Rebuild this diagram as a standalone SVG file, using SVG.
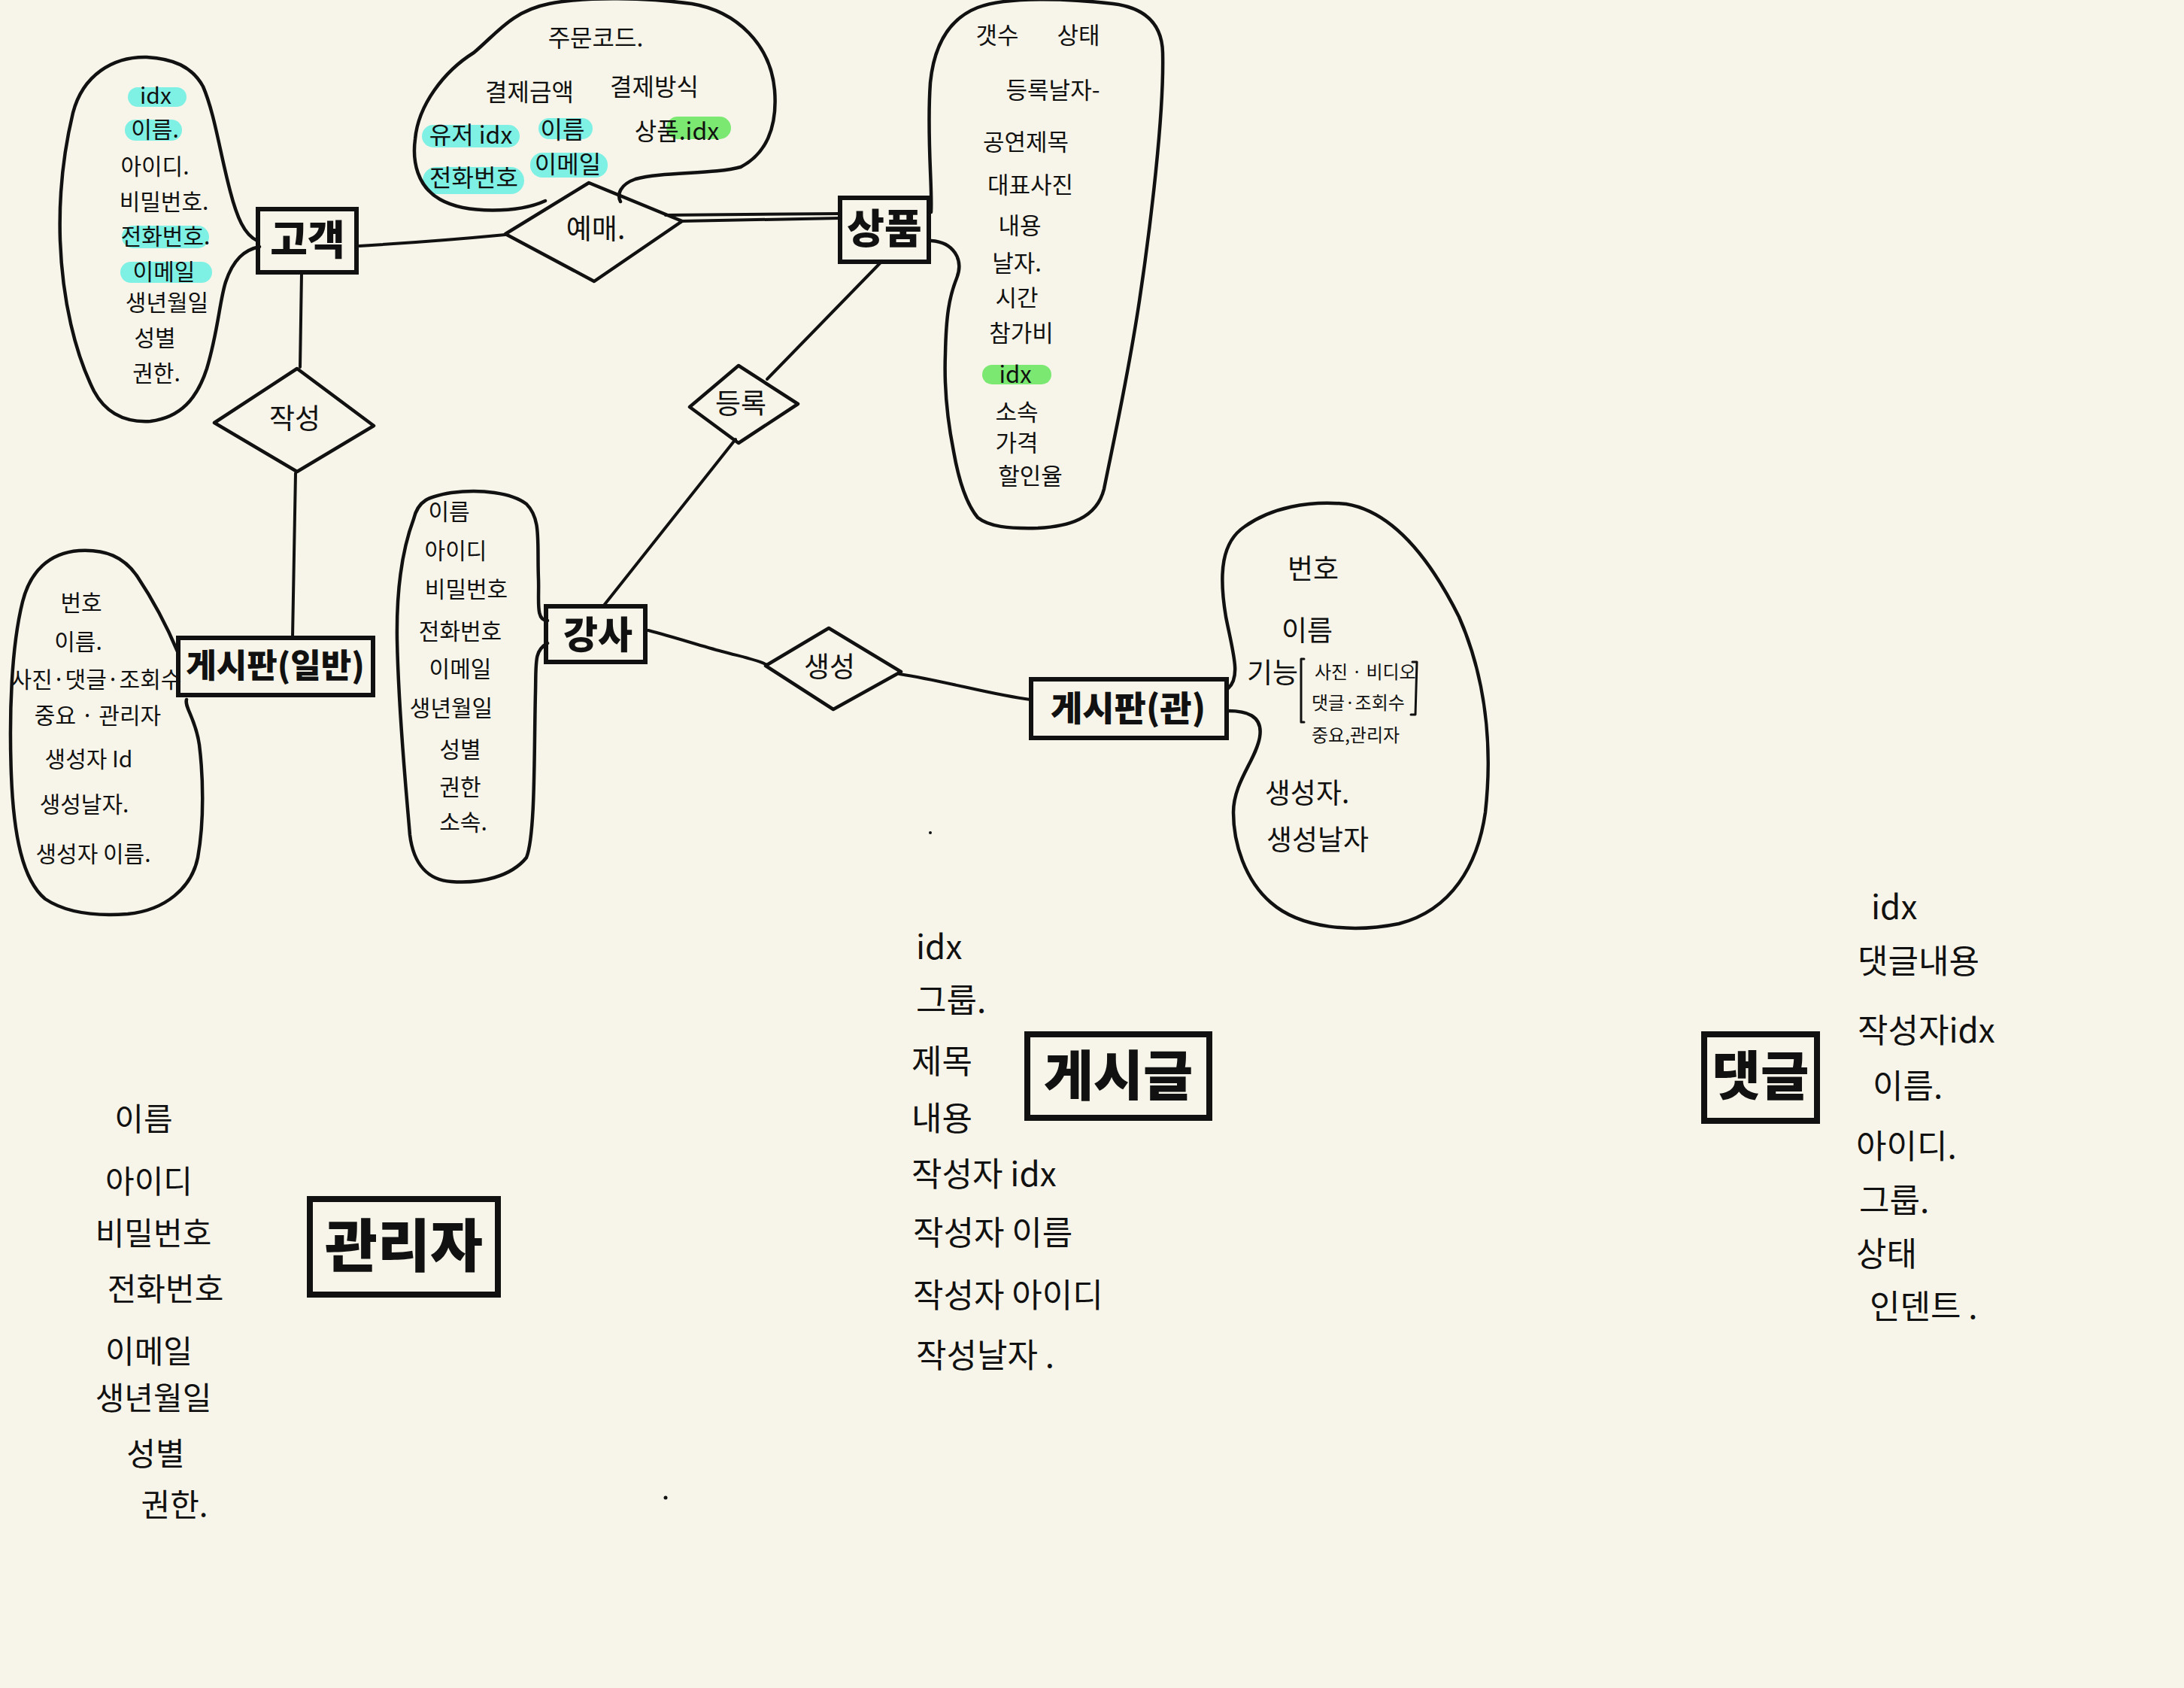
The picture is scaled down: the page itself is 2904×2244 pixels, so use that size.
<svg xmlns="http://www.w3.org/2000/svg" width="2904" height="2244" viewBox="0 0 2904 2244">
<defs>
<style>
.bg{fill:#F7F5E9}
.ln{fill:none;stroke:#111;stroke-width:4;stroke-linecap:round;stroke-linejoin:round}
.blob{fill:none;stroke:#111;stroke-width:4.5;stroke-linecap:round;stroke-linejoin:round}
.box{fill:none;stroke:#111;stroke-width:6}
.bbox{fill:none;stroke:#111;stroke-width:8}
.dia{fill:none;stroke:#111;stroke-width:4.5;stroke-linejoin:round}
.hc{fill:#7FF0E4}
.hg{fill:#7BE872}
text{font-family:"Noto Sans CJK KR","Noto Sans",sans-serif;fill:#111}
.t{font-size:30px;text-anchor:middle}
.to{font-size:32px;text-anchor:middle}
.tp{font-size:31px;text-anchor:middle}
.tk{font-size:37px;text-anchor:middle}
.ts{font-size:24px}
.tb{font-size:44px}
.ta{font-size:42px;text-anchor:middle}
.lab{font-weight:900;text-anchor:middle}
</style>
</defs>
<rect class="bg" x="0" y="0" width="2904" height="2244"/>

<g id="connectors">
<path class="ln" d="M401,363 L399,488"/>
<path class="ln" d="M393,629 L389,847"/>
<path class="ln" d="M478,327 C560,322 620,317 672,312"/>
<path class="ln" d="M905,294 L1117,290"/>
<path class="ln" d="M885,286 L1117,284"/>
<path class="ln" d="M1170,350 L1020,504"/>
<path class="ln" d="M978,584 L802,806"/>
<path class="ln" d="M862,838 C900,848 930,858 960,866 C990,874 1010,878 1020,884"/>
<path class="ln" d="M1196,896 C1260,906 1320,924 1370,930"/>
</g>

<g id="customer">
<rect class="hc" x="170" y="116" width="78" height="26" rx="13"/>
<rect class="hc" x="166" y="159" width="76" height="28" rx="14"/>
<rect class="hc" x="162" y="300" width="116" height="30" rx="15"/>
<rect class="hc" x="160" y="348" width="122" height="28" rx="14"/>
<path class="blob" d="M342,320 C325,312 315,290 305,250 C292,200 285,150 270,115 C255,88 230,78 195,76 C150,75 110,100 97,150 C85,200 78,260 80,320 C83,400 100,470 125,520 C140,548 165,562 200,560 C240,555 262,530 275,490 C290,440 292,400 300,375 C310,345 325,332 345,328"/>
<text class="t" x="207" y="138">idx</text>
<text class="t" x="206" y="183">이름.</text>
<text class="t" x="206" y="232">아이디.</text>
<text class="t" x="218" y="279">비밀번호.</text>
<text class="t" x="220" y="325">전화번호.</text>
<text class="t" x="218" y="372">이메일</text>
<text class="t" x="222" y="413">생년월일</text>
<text class="t" x="206" y="460">성별</text>
<text class="t" x="208" y="507">권한.</text>
<rect class="box" x="343" y="278" width="131" height="84"/>
<text class="lab" x="409" y="339" font-size="54">고객</text>
</g>

<g id="order">
<rect class="hc" x="561" y="166" width="130" height="30" rx="15"/>
<rect class="hc" x="716" y="157" width="72" height="28" rx="14"/>
<rect class="hc" x="562" y="222" width="135" height="36" rx="18"/>
<rect class="hc" x="705" y="203" width="103" height="33" rx="16"/>
<rect class="hg" x="886" y="155" width="86" height="30" rx="15"/>
<path class="blob" d="M725,267 C690,283 620,285 585,265 C555,248 548,215 552,185 C556,140 590,95 630,70 C660,45 680,15 730,5 C780,-5 860,-3 920,5 C980,15 1025,60 1030,120 C1034,170 1018,205 985,222 C950,232 880,228 845,238 C825,245 820,258 825,268"/>
<text class="to" x="792" y="62">주문코드.</text>
<text class="to" x="704" y="134">결제금액</text>
<text class="to" x="870" y="127">결제방식</text>
<text class="to" x="626" y="191">유저 idx</text>
<text class="to" x="748" y="184">이름</text>
<text class="to" x="900" y="186">상품.idx</text>
<text class="to" x="630" y="248">전화번호</text>
<text class="to" x="755" y="230">이메일</text>
<polygon class="dia" points="672,311 783,243 907,294 790,374"/>
<text class="tk" x="792" y="318">예매.</text>
</g>

<g id="product">
<rect class="hg" x="1306" y="485" width="92" height="26" rx="13"/>
<path class="blob" d="M1238,282 C1240,250 1232,180 1237,110 C1242,60 1262,25 1300,10 C1340,-5 1420,-2 1480,5 C1520,10 1545,30 1546,70 C1548,150 1530,300 1515,400 C1500,500 1480,590 1468,650 C1458,690 1420,700 1380,702 C1340,703 1315,700 1300,688 C1285,670 1275,640 1268,600 C1260,560 1255,520 1257,470 C1258,420 1262,395 1272,370 C1282,345 1268,322 1238,320"/>
<text class="tp" x="1326" y="58">갯수</text>
<text class="tp" x="1434" y="58">상태</text>
<text class="tp" x="1400" y="131">등록날자-</text>
<text class="tp" x="1364" y="200">공연제목</text>
<text class="tp" x="1370" y="257">대표사진</text>
<text class="tp" x="1356" y="311">내용</text>
<text class="tp" x="1352" y="361">날자.</text>
<text class="tp" x="1352" y="407">시간</text>
<text class="tp" x="1358" y="454">참가비</text>
<text class="tp" x="1350" y="509">idx</text>
<text class="tp" x="1352" y="559">소속</text>
<text class="tp" x="1352" y="600">가격</text>
<text class="tp" x="1370" y="644">할인율</text>
<rect class="box" x="1117" y="263" width="118" height="85"/>
<text class="lab" x="1176" y="324" font-size="54">상품</text>
</g>

<g id="write">
<polygon class="dia" points="395,490 497,566 395,627 285,562"/>
<text class="tk" x="392" y="570" font-size="42">작성</text>
</g>

<g id="board-general">
<path class="blob" d="M236,866 C225,840 205,800 183,767 C165,740 140,730 105,732 C65,735 40,760 30,800 C15,860 12,950 15,1030 C18,1110 30,1170 60,1195 C90,1215 130,1218 170,1215 C220,1210 255,1180 263,1140 C272,1090 270,1030 265,990 C260,955 245,940 248,930"/>
<text class="t" x="108" y="812" font-size="31">번호</text>
<text class="t" x="104" y="864" font-size="31">이름.</text>
<text class="t" x="128" y="914" font-size="27">사진·댓글·조회수</text>
<text class="t" x="130" y="962" font-size="29">중요 · 관리자</text>
<text class="t" x="118" y="1020" font-size="31">생성자 Id</text>
<text class="t" x="112" y="1080" font-size="31">생성날자.</text>
<text class="t" x="124" y="1146" font-size="31">생성자 이름.</text>
<rect class="box" x="237" y="848" width="259" height="76"/>
<text class="lab" x="366" y="901" font-size="44">게시판(일반)</text>
</g>

<g id="register">
<polygon class="dia" points="917,541 982,486 1061,537 982,589"/>
<text class="tk" x="985" y="550" font-size="36">등록</text>
</g>

<g id="instructor">
<path class="blob" d="M728,825 C712,825 717,800 716,770 C714,720 720,690 700,670 C680,655 640,650 600,655 C570,660 556,665 550,690 C535,730 527,780 528,850 C530,950 540,1050 545,1110 C550,1150 570,1170 600,1172 C640,1175 680,1165 700,1140 C712,1110 710,1000 712,920 C713,880 710,865 728,855"/>
<text class="t" x="597" y="691" font-size="29">이름</text>
<text class="t" x="606" y="743" font-size="29">아이디</text>
<text class="t" x="620" y="794" font-size="29">비밀번호</text>
<text class="t" x="612" y="850" font-size="29">전화번호</text>
<text class="t" x="612" y="900" font-size="29">이메일</text>
<text class="t" x="600" y="952" font-size="29">생년월일</text>
<text class="t" x="612" y="1007" font-size="29">성별</text>
<text class="t" x="612" y="1057" font-size="29">권한</text>
<text class="t" x="616" y="1104" font-size="29">소속.</text>
<rect class="box" x="726" y="806" width="132" height="74"/>
<text class="lab" x="795" y="862" font-size="50">강사</text>
</g>

<g id="create">
<polygon class="dia" points="1018,885 1102,835 1198,893 1108,943"/>
<text class="tk" x="1103" y="900" font-size="36">생성</text>
</g>

<g id="board-admin">
<path class="blob" d="M1633,915 C1650,900 1640,870 1630,820 C1620,760 1625,720 1655,700 C1690,675 1740,665 1790,670 C1850,680 1900,740 1940,820 C1975,900 1985,990 1975,1080 C1965,1150 1930,1210 1860,1228 C1800,1240 1730,1235 1690,1200 C1655,1170 1640,1120 1640,1080 C1640,1040 1670,1010 1675,980 C1680,950 1655,945 1633,945"/>
<text class="tk" x="1746" y="770">번호</text>
<text class="tk" x="1738" y="852">이름</text>
<text class="tk" x="1692" y="908" font-size="30">기능</text>
<path class="ln" d="M1734,876 L1730,876 L1730,960 L1734,960" style="stroke-width:3"/>
<path class="ln" d="M1878,880 L1884,880 L1882,950 L1876,950" style="stroke-width:3"/>
<text class="ts" x="1748" y="902">사진 · 비디오</text>
<text class="ts" x="1744" y="943">댓글·조회수</text>
<text class="ts" x="1744" y="986">중요,관리자</text>
<text class="tk" x="1738" y="1068">생성자.</text>
<text class="tk" x="1752" y="1130">생성날자</text>
<rect class="box" x="1371" y="903" width="260" height="78"/>
<text class="lab" x="1500" y="958" font-size="46">게시판(관)</text>
</g>

<g id="post">
<text class="tb" x="1218" y="1275">idx</text>
<text class="tb" x="1218" y="1346">그룹.</text>
<text class="tb" x="1212" y="1427">제목</text>
<text class="tb" x="1212" y="1503">내용</text>
<text class="tb" x="1212" y="1577">작성자 idx</text>
<text class="tb" x="1214" y="1655">작성자 이름</text>
<text class="tb" x="1214" y="1738">작성자 아이디</text>
<text class="tb" x="1218" y="1818">작성날자 .</text>
<rect class="bbox" x="1366" y="1375" width="242" height="111"/>
<text class="lab" x="1487" y="1456" font-size="72">게시글</text>
</g>

<g id="comment">
<text class="tb" x="2488" y="1222">idx</text>
<text class="tb" x="2470" y="1294">댓글내용</text>
<text class="tb" x="2470" y="1386">작성자idx</text>
<text class="tb" x="2490" y="1460">이름.</text>
<text class="tb" x="2468" y="1540">아이디.</text>
<text class="tb" x="2472" y="1612">그룹.</text>
<text class="tb" x="2468" y="1683">상태</text>
<text class="tb" x="2486" y="1753">인덴트 .</text>
<rect class="bbox" x="2266" y="1375" width="150" height="115"/>
<text class="lab" x="2341" y="1456" font-size="70">댓글</text>
</g>

<g id="admin">
<text class="ta" x="191" y="1503">이름</text>
<text class="ta" x="198" y="1586">아이디</text>
<text class="ta" x="204" y="1655">비밀번호</text>
<text class="ta" x="220" y="1729">전화번호</text>
<text class="ta" x="198" y="1812">이메일</text>
<text class="ta" x="204" y="1874">생년월일</text>
<text class="ta" x="207" y="1948">성별</text>
<text class="ta" x="232" y="2016">권한.</text>
<rect class="bbox" x="412" y="1594" width="250" height="127"/>
<text class="lab" x="537" y="1684" font-size="76">관리자</text>
</g>

<circle cx="1237" cy="1107" r="2" fill="#111"/>
<circle cx="885" cy="1991" r="2.5" fill="#111"/>
</svg>
